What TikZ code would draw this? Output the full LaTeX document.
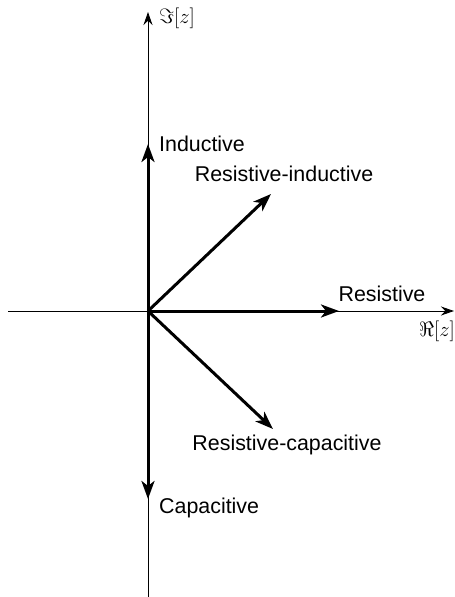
\documentclass[tikz,border=0pt]{standalone}
\usepackage{fontspec}
\setmainfont{Liberation Sans}
\usetikzlibrary{arrows.meta}
\begin{document}
\begin{tikzpicture}[x=1pt,y=1pt,
  axis/.style={line width=0.9pt,-{Stealth[length=13pt,width=9pt]}},
  vec/.style={line width=3pt,-{Stealth[length=18pt,width=13pt,inset=5pt]}},
  lbl/.style={font=\fontsize{21.4}{24}\selectfont,inner sep=0pt},
  mlbl/.style={font=\fontsize{22}{25}\selectfont,inner sep=0pt}]
\useasboundingbox (0,0) rectangle (455,-597);
\coordinate (O) at (148,-311);
\coordinate (yb) at (148,-597);
\coordinate (yt) at (148,-12);
\coordinate (xl) at (8,-311);
\coordinate (xr) at (454,-311);
\coordinate (ind) at (148,-144);
\coordinate (cap) at (148,-499);
\coordinate (res) at (339,-311);
\coordinate (ri) at (271,-194);
\coordinate (rc) at (273,-429);
\draw[axis] (yb) -- (yt);
\draw[axis] (xl) -- (xr);
\draw[vec] (O) -- (ind);
\draw[vec] (O) -- (cap);
\draw[vec] (O) -- (res);
\draw[vec] (O) -- (ri);
\draw[vec] (O) -- (rc);
\node[mlbl,anchor=west] (im) at (159,-18) {$\Im[z]$};
\node[mlbl,anchor=east] (re) at (455,-331) {$\Re[z]$};
\node[lbl,anchor=west] (tind) at (159,-144) {Inductive};
\node[lbl,anchor=west] (tcap) at (159,-508) {Capacitive};
\node[lbl] (tres) at (382,-294) {Resistive};
\node[lbl] (tri) at (284,-174) {Resistive-inductive};
\node[lbl] (trc) at (287,-445) {Resistive-capacitive};
\end{tikzpicture}
\end{document}
